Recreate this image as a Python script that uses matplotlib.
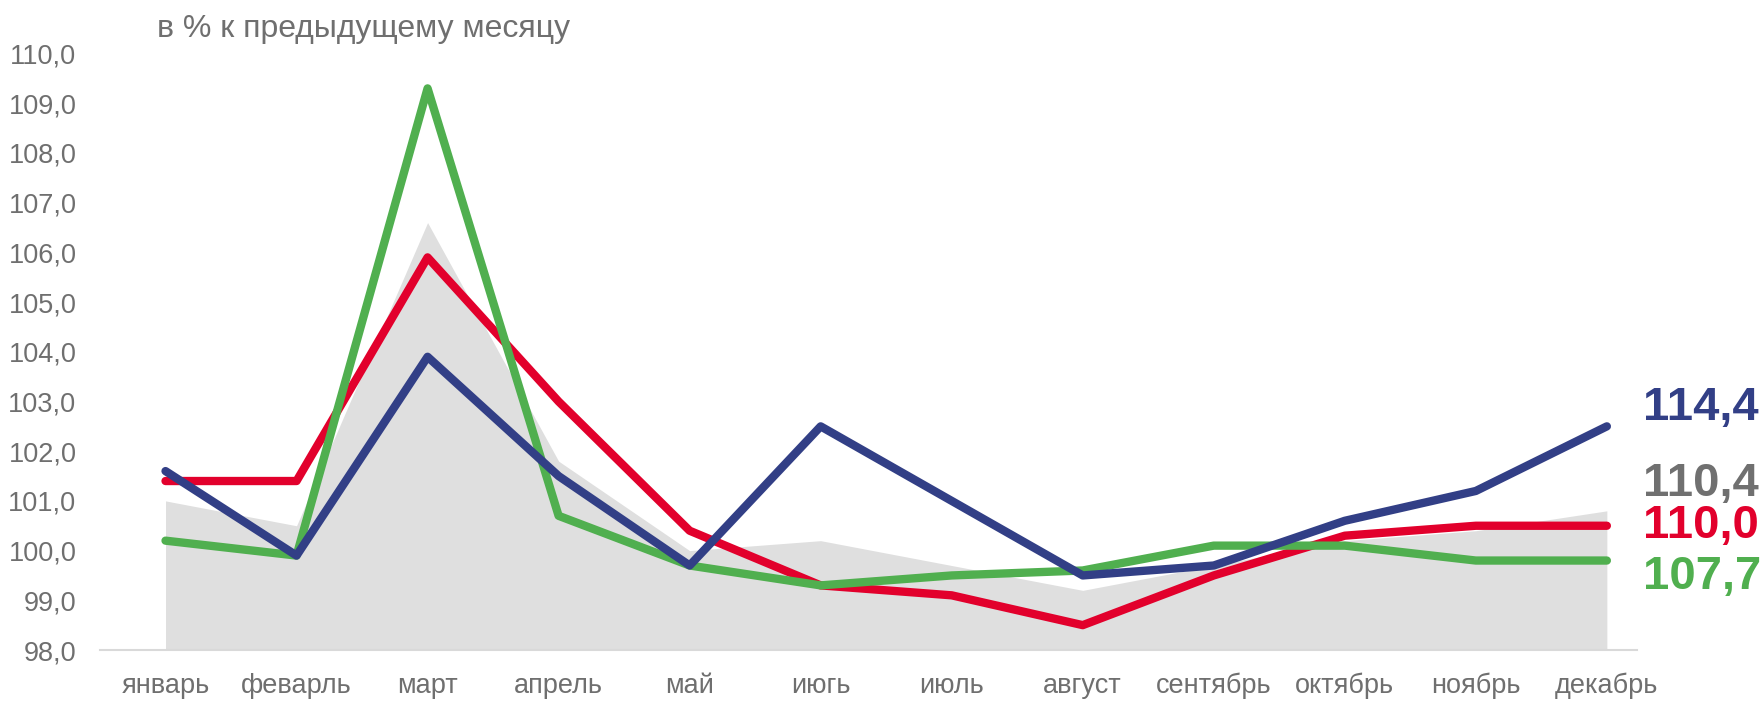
import numpy as np
import matplotlib
matplotlib.use('Agg')
import matplotlib.pyplot as plt

plt.rcParams['font.family'] = ['Liberation Sans', 'DejaVu Sans']

# ============================================================
# DATA
# ============================================================
months = ['январь', 'феварль', 'март', 'апрель', 'май', 'июгь', 'июль',
          'август', 'сентябрь', 'октябрь', 'ноябрь', 'декабрь']

grey_area = [101.0, 100.5, 106.6, 101.8, 100.0, 100.2, 99.7, 99.2, 99.7, 100.2, 100.4, 100.8]
red_line = [101.4, 101.4, 105.9, 103.0, 100.4, 99.3, 99.1, 98.5, 99.5, 100.3, 100.5, 100.5]
green_line = [100.2, 99.9, 109.3, 100.7, 99.7, 99.3, 99.5, 99.6, 100.1, 100.1, 99.8, 99.8]
blue_line = [101.6, 99.9, 103.9, 101.5, 99.7, 102.5, 101.0, 99.5, 99.7, 100.6, 101.2, 102.5]

totals = ['114,4', '110,4', '110,0', '107,7']
yticks = np.arange(98, 110.5, 1.0)

# colours
C_BLUE = '#323F86'
C_RED = '#E2002C'
C_GREEN = '#50AF4F'
C_GREY = '#707070'
C_AREA = '#DFDFDF'
TXT = '#6F6F6F'

# ============================================================
# PLOT
# ============================================================
W, H = 1764, 701
fig = plt.figure(figsize=(W / 100, H / 100), dpi=100)
ax = fig.add_axes([100 / W, (H - 650) / H, (1637 - 100) / W, (650 - 53.6) / H])

x = np.arange(len(months))
ax.fill_between(x, 98, grey_area, color=C_AREA, linewidth=0, zorder=1)

for vals, col in [(red_line, C_RED), (green_line, C_GREEN), (blue_line, C_BLUE)]:
    ax.plot(x, vals, color=col, lw=6, solid_capstyle='round',
            solid_joinstyle='round', zorder=3, clip_on=False)

ax.set_xlim(-0.5, 11.23)
ax.set_ylim(98, 110)

ax.set_yticks(yticks)
ax.set_yticklabels([f'{v:.1f}'.replace('.', ',') for v in yticks])
ax.set_xticks(x)
ax.set_xticklabels(months)
ax.tick_params(axis='both', length=0, labelsize=19.5, labelcolor=TXT)
ax.tick_params(axis='y', pad=17)
ax.tick_params(axis='x', pad=16.5)

for s in ['top', 'right', 'left']:
    ax.spines[s].set_visible(False)
ax.spines['bottom'].set_color('#D9D9D9')
ax.spines['bottom'].set_linewidth(1.5)
ax.spines['bottom'].set_zorder(2)

# totals on the right
label_cols = [C_BLUE, C_GREY, C_RED, C_GREEN]
label_y = [408, 484, 526, 577]
for txt, col, py in zip(totals, label_cols, label_y):
    fig.text(1643 / W, 1 - py / H, txt, color=col, fontsize=34,
             fontweight='bold', va='center', ha='left')

fig.text(157 / W, 1 - 36.7 / H, 'в % к предыдущему месяцу', color=TXT,
         fontsize=23, va='baseline', ha='left')

fig.savefig('out.png', dpi=100)
